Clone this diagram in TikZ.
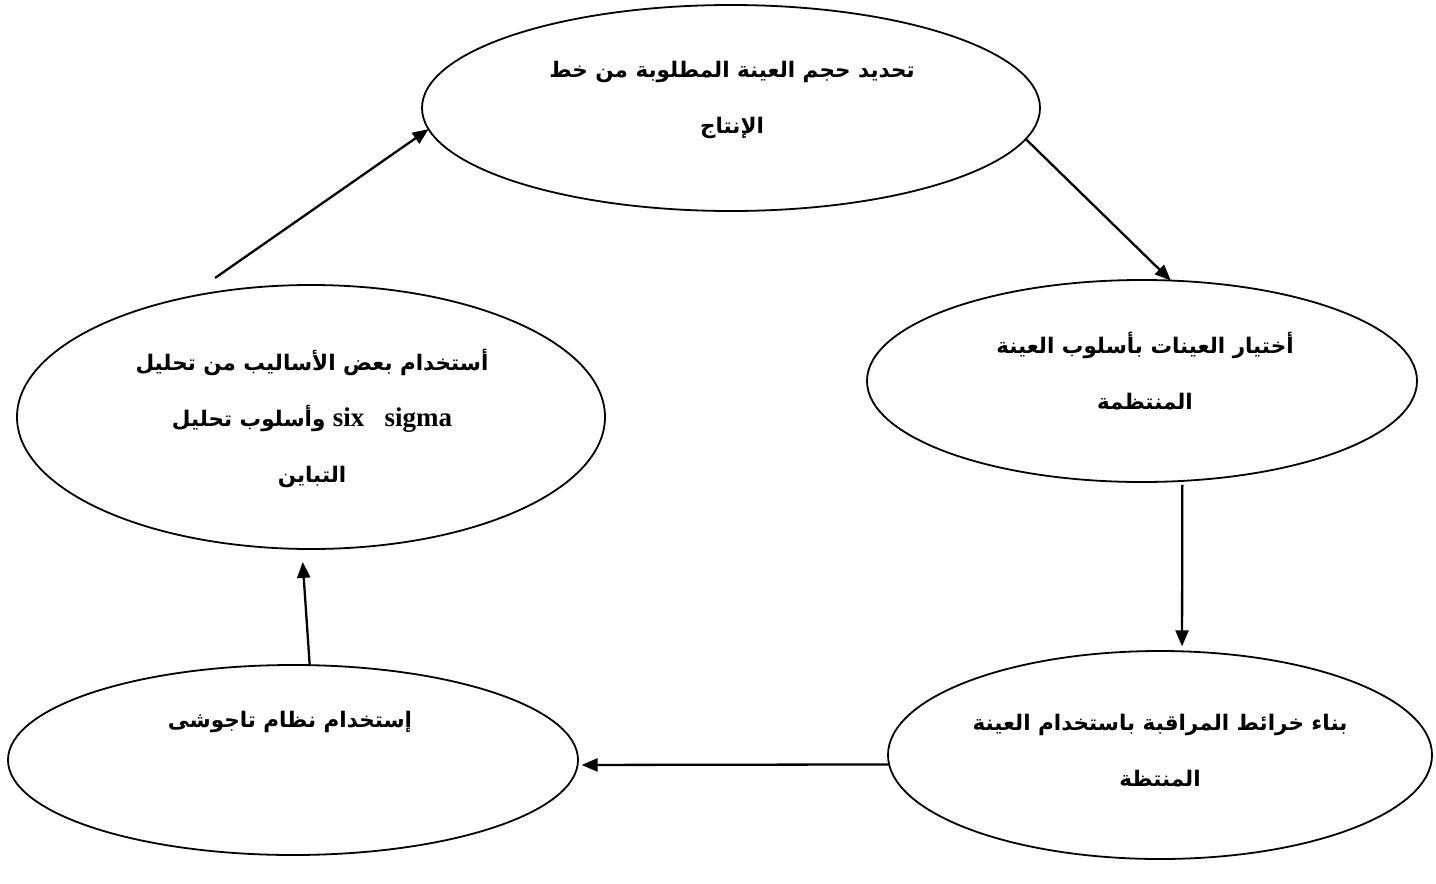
\documentclass[tikz,border=0pt]{standalone}
\usepackage{fontspec}
\usetikzlibrary{shapes.geometric,arrows.meta}
\TeXXeTstate=1
\newfontfamily\arabicfont[Script=Arabic]{DejaVu Sans}
\newfontfamily\latinfont{Liberation Serif}
\tikzset{
  ell/.style={draw, ellipse, line width=1.8pt, inner sep=0pt, outer sep=0pt},
  lbl/.style={align=center, font=\arabicfont\bfseries\fontsize{21.5}{56}\selectfont},
  arr/.style={line width=2.3pt, -{Triangle[length=16pt,width=13pt]}}
}
\begin{document}
\begin{tikzpicture}[x=1pt,y=-1pt]
\useasboundingbox (0,0) rectangle (1436,884);
% ellipses
\node[ell, minimum width=618pt, minimum height=206pt] (T) at (731,108) {};
\node[ell, minimum width=550pt, minimum height=202pt] (R) at (1142,381) {};
\node[ell, minimum width=588pt, minimum height=264pt] (L) at (311,417) {};
\node[ell, minimum width=544pt, minimum height=208pt] (BR) at (1160,755) {};
\node[ell, minimum width=570pt, minimum height=190pt] (BL) at (293,760) {};
% texts
\node[lbl] (tT) at (732,100) {\beginR تحديد حجم العينة المطلوبة من خط\endR\\\beginR الإنتاج\endR};
\node[lbl] (tR) at (1145,371) {\beginR أختيار العينات بأسلوب العينة\endR\\\beginR المنتظمة\endR};
\node[lbl] (tL) at (312,418) {\beginR أستخدام بعض الأساليب من تحليل\endR\\\beginR\beginL{\latinfont\bfseries\fontsize{27}{56}\selectfont six\ \ \ sigma}\endL{} وأسلوب تحليل\endR\\\beginR التباين\endR};
\node[lbl] (tBR) at (1160,751) {\beginR بناء خرائط المراقبة باستخدام العينة\endR\\\beginR المنتظة\endR};
\node[lbl] (tBL) at (290,722) {\beginR إستخدام نظام تاجوشى\endR};
% connectors
\coordinate (a1s) at (215,278);
\draw[arr] (a1s) -- (T.184.75);
\draw[arr] (T.-6.4) -- (R.74.9);
\draw[arr, shorten <=4pt, shorten >=5pt] (R.-68.7) -- (BR.78.6);
\draw[arr, shorten >=4pt] (BR.182.3) -- (BL.-1.4);
\draw[arr, shorten >=13pt] (BL.80.6) -- (L.266.8);
\end{tikzpicture}
\end{document}
